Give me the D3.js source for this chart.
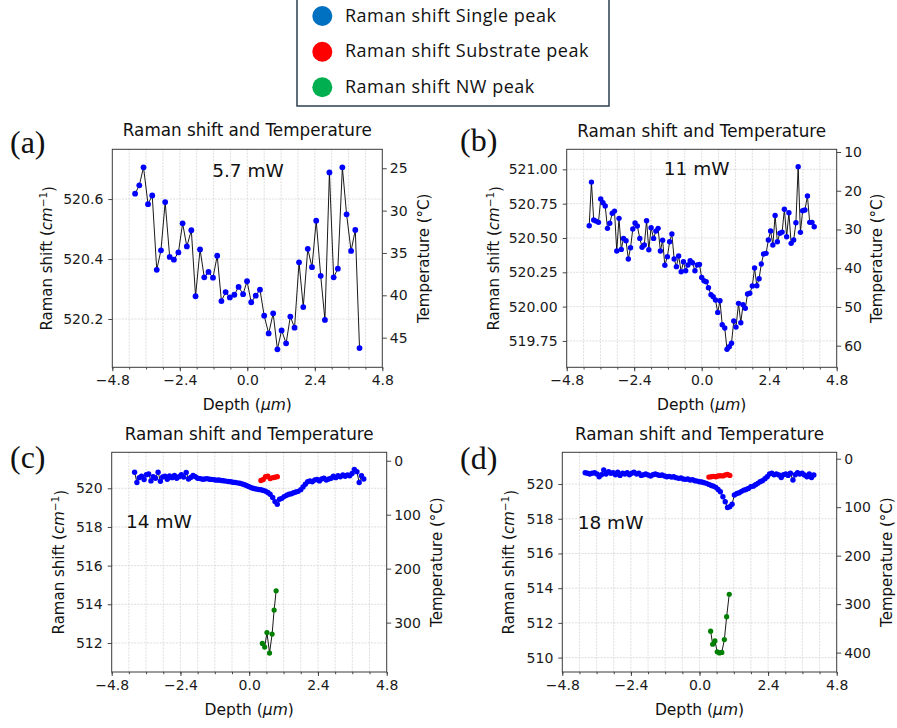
<!DOCTYPE html>
<html>
<head>
<meta charset="utf-8">
<script src="https://cdn.jsdelivr.net/npm/d3@7"></script>
<style>
  body { margin: 0; background: #fff; }
  svg { display: block; }
</style>
</head>
<body>
<svg id="fig" width="897" height="728"></svg>
<script>
// ---------------- data ----------------
// Panel (a), 5.7 mW: depth (µm) and single-peak Raman shift (cm^-1)
const depthA = [-3.99,-3.84,-3.69,-3.53,-3.38,-3.22,-3.07,-2.92,-2.76,-2.61,
  -2.45,-2.30,-2.15,-1.99,-1.84,-1.68,-1.53,-1.38,-1.22,-1.07,
  -0.92,-0.77,-0.62,-0.46,-0.31,-0.15,-0.01,0.14,0.30,0.45,
  0.60,0.76,0.92,1.07,1.22,1.38,1.53,1.68,1.84,1.99,
  2.15,2.30,2.45,2.61,2.76,2.92,3.07,3.22,3.38,3.53,
  3.69,3.84,3.99];
const ramanA = [520.618,520.646,520.706,520.583,520.612,520.364,520.429,520.590,520.407,520.398,
  520.422,520.519,520.442,520.496,520.276,520.432,520.339,520.357,520.338,520.411,
  520.260,520.290,520.272,520.281,520.307,520.283,520.326,520.256,520.278,520.298,
  520.211,520.152,520.219,520.099,520.162,520.119,520.208,520.171,520.389,520.240,
  520.434,520.373,520.528,520.344,520.197,520.689,520.339,520.368,520.706,520.549,
  520.427,520.497,520.103];

// Scan positions shared by panels (b)-(d)
const scanDepth = [-4.00,-3.92,-3.84,-3.76,-3.67,-3.59,-3.51,-3.43,-3.35,-3.27,
  -3.18,-3.10,-3.02,-2.94,-2.86,-2.78,-2.69,-2.61,-2.53,-2.45,
  -2.37,-2.29,-2.20,-2.12,-2.04,-1.96,-1.88,-1.80,-1.71,-1.63,
  -1.55,-1.47,-1.39,-1.31,-1.22,-1.14,-1.06,-0.98,-0.90,-0.82,
  -0.73,-0.65,-0.57,-0.49,-0.41,-0.33,-0.24,-0.16,-0.08,0.00,
  0.08,0.16,0.24,0.33,0.41,0.49,0.57,0.65,0.73,0.82,
  0.90,0.98,1.06,1.14,1.22,1.31,1.39,1.47,1.55,1.63,
  1.71,1.80,1.88,1.96,2.04,2.12,2.20,2.29,2.37,2.45,
  2.53,2.61,2.69,2.78,2.86,2.94,3.02,3.10,3.18,3.27,
  3.35,3.43,3.51,3.59,3.67,3.76,3.84,3.92,4.00];

// Panel (b), 11 mW
const ramanB = [520.589,520.907,520.631,520.623,520.614,520.784,520.757,520.733,520.570,520.607,
  520.680,520.696,520.405,520.643,520.417,520.497,520.480,520.347,520.429,520.565,
  520.609,520.587,520.497,520.432,520.449,520.626,520.414,520.575,520.497,520.550,
  520.570,520.405,520.483,520.301,520.364,520.473,520.529,520.347,520.291,520.369,
  520.254,520.327,520.261,520.303,520.334,520.320,520.261,520.303,520.307,520.212,
  520.189,520.181,520.138,520.087,520.072,520.048,519.958,520.043,519.868,519.844,
  519.689,519.708,519.733,519.895,519.851,520.024,519.883,520.014,519.988,520.092,
  520.097,520.150,520.281,520.152,520.203,520.310,520.383,520.388,520.485,520.551,
  520.449,520.664,520.473,520.534,520.543,520.709,520.509,520.684,520.461,520.485,
  520.611,521.019,520.541,520.699,520.704,520.806,520.614,520.614,520.582];

// Panel (c), 14 mW
const ramanC = [520.83,520.30,520.55,520.62,520.45,520.70,520.74,520.38,520.60,520.52,
  520.83,520.36,520.58,520.62,520.47,520.64,520.55,520.66,520.52,520.60,
  520.70,520.58,520.82,520.48,520.56,520.66,520.60,520.52,520.50,520.47,
  520.48,520.50,520.47,520.46,520.44,520.42,520.43,520.40,520.39,520.37,
  520.35,520.34,520.31,520.30,520.28,520.26,520.22,520.18,520.13,520.08,
  520.03,519.99,519.96,519.94,519.92,519.89,519.85,519.78,519.69,519.52,
  519.31,519.17,519.43,519.48,519.57,519.64,519.69,519.72,519.77,519.81,
  519.84,519.93,520.07,520.21,520.34,520.38,520.34,520.43,520.46,520.38,
  520.48,520.52,520.43,520.48,520.52,520.62,520.55,520.65,520.59,520.69,
  520.62,520.69,520.65,520.76,520.97,520.86,520.30,520.65,520.48];
const substrateDepthC = [0.41,0.49,0.57,0.65,0.73,0.82,0.90,0.98];
const substrateC = [520.40,520.45,520.60,520.63,520.50,520.55,520.57,520.60];
const nwDepthC = [0.46,0.54,0.62,0.71,0.80,0.87,0.94];
const nwC = [511.98,511.79,512.54,511.48,512.46,513.70,514.70];

// Panel (d), 18 mW
const ramanD = [520.65,520.62,520.58,520.62,520.65,520.58,520.42,520.54,520.81,520.58,
  520.71,520.62,520.65,520.54,520.69,520.50,520.62,520.58,520.65,520.54,
  520.62,520.69,520.58,520.62,520.50,520.54,520.58,520.52,520.46,520.54,
  520.58,520.54,520.50,520.52,520.46,520.42,520.44,520.40,520.42,520.37,
  520.33,520.35,520.29,520.27,520.29,520.23,520.25,520.19,520.17,520.13,
  520.12,520.08,520.04,519.98,519.92,519.88,519.81,519.69,519.56,519.27,
  518.98,518.65,518.69,518.84,519.37,519.46,519.50,519.58,519.65,519.69,
  519.75,519.85,519.88,519.96,520.04,520.13,520.19,520.31,520.42,520.58,
  520.62,520.54,520.58,520.52,520.38,520.54,520.58,520.50,520.62,520.23,
  520.54,520.65,520.58,520.62,520.52,520.42,520.58,520.38,520.52];
const substrateDepthD = [0.33,0.41,0.49,0.57,0.65,0.73,0.82,0.90,0.98,1.06];
const substrateD = [520.40,520.42,520.44,520.42,520.46,520.48,520.47,520.52,520.55,520.50];
const nwDepthD = [0.39,0.46,0.54,0.62,0.70,0.78,0.87,0.95,1.04];
const nwD = [511.52,510.77,510.96,510.33,510.27,510.30,511.04,512.36,513.65];

// Axis ticks
const depthTicks = [-4.8,-2.4,0,2.4,4.8];
const depthMinorTicks = [-4.8,-4.2,-3.6,-3.0,-2.4,-1.8,-1.2,-0.6,0,0.6,1.2,1.8,2.4,3.0,3.6,4.2,4.8];
const ramanTicksA = [520.2,520.4,520.6];
const ramanTicksB = [519.75,520.00,520.25,520.50,520.75,521.00];
const ramanTicksC = [512,514,516,518,520];
const ramanTicksD = [510,512,514,516,518,520];
const tempTicksA = [25,30,35,40,45];
const tempTicksB = [10,20,30,40,50,60];
const tempTicksC = [0,100,200,300];
const tempTicksD = [0,100,200,300,400];

// Labels
const panelTags = ["(a)","(b)","(c)","(d)"];
const powerLabels = ["5.7 mW","11 mW","14 mW","18 mW"];
const legendLabels = ["Raman shift Single peak","Raman shift Substrate peak","Raman shift NW peak"];
const legendColors = ["#0070C0","#FF0000","#00B050"];
const seriesColors = { single: "#0000FF", substrate: "#FF0000", nw: "#008000" };

// ---------------- drawing ----------------
const svg = d3.select("#fig");
svg.append("rect").attr("width",897).attr("height",728).attr("fill","#fff");

const SANS = "'DejaVu Sans', sans-serif";

function drawPanel(p) {
  const g = svg.append("g");
  const x = d3.scaleLinear().domain([-4.8, 4.8]).range([p.x0, p.x1]);
  const y = d3.scaleLinear().domain(p.ramanDomain).range([p.y1, p.y0]);
  const yT = d3.scaleLinear().domain(p.tempDomain).range([p.y0, p.y1]);

  // grid
  const grid = g.append("g").attr("stroke", "#d6d6d6").attr("stroke-width", 0.8)
    .attr("stroke-dasharray", "2,1.2");
  grid.selectAll("line.v").data(depthMinorTicks.slice(1, -1)).join("line")
    .attr("x1", d => x(d)).attr("x2", d => x(d)).attr("y1", p.y0).attr("y2", p.y1);
  grid.selectAll("line.h").data(p.ramanTicks).join("line")
    .attr("y1", d => y(d)).attr("y2", d => y(d)).attr("x1", p.x0).attr("x2", p.x1);

  // axes
  const styleAxis = sel => {
    sel.select(".domain").remove();
    sel.selectAll(".tick line").attr("stroke", "#333").attr("stroke-width", 0.9);
    sel.selectAll(".tick text").attr("fill", "#1a1a1a")
      .style("font-family", SANS).style("font-size", "14px");
  };
  g.append("g").attr("transform", `translate(0,${p.y1})`)
    .call(d3.axisBottom(x).tickValues(depthMinorTicks).tickFormat("").tickSize(2.2))
    .call(styleAxis);
  g.append("g").attr("transform", `translate(0,${p.y1})`)
    .call(d3.axisBottom(x).tickValues(depthTicks).tickFormat(d3.format(".1f")).tickSize(4).tickPadding(4))
    .call(styleAxis);
  g.append("g").attr("transform", `translate(${p.x0},0)`)
    .call(d3.axisLeft(y).tickValues(p.ramanTicks).tickFormat(d3.format(p.fmt)).tickSize(4).tickPadding(5))
    .call(styleAxis);
  g.append("g").attr("transform", `translate(${p.x1},0)`)
    .call(d3.axisRight(yT).tickValues(p.tempTicks).tickFormat(d3.format("d")).tickSize(4.5).tickPadding(3))
    .call(styleAxis);

  // frame
  g.append("rect").attr("x", p.x0).attr("y", p.y0)
    .attr("width", p.x1 - p.x0).attr("height", p.y1 - p.y0)
    .attr("fill", "none").attr("stroke", "#3a3a3a").attr("stroke-width", 1);

  // series
  const line = d3.line().x(d => x(d[0])).y(d => y(d[1]));
  p.series.forEach(s => {
    const pts = d3.zip(s.depth, s.values);
    g.append("path").datum(pts).attr("d", line)
      .attr("fill", "none").attr("stroke", "#000").attr("stroke-width", 0.9);
    g.append("g").selectAll("circle").data(pts).join("circle")
      .attr("cx", d => x(d[0])).attr("cy", d => y(d[1])).attr("r", s.r)
      .attr("fill", s.color);
  });

  // title
  g.append("text").attr("x", (p.x0 + p.x1) / 2).attr("y", p.titleY)
    .attr("text-anchor", "middle").style("font-family", SANS).style("font-size", "16.8px")
    .attr("fill", "#111").text("Raman shift and Temperature");

  // x label
  const xl = g.append("text").attr("x", (p.x0 + p.x1) / 2).attr("y", p.y1 + 43)
    .attr("text-anchor", "middle").style("font-family", SANS).style("font-size", "15.5px")
    .attr("fill", "#111");
  xl.append("tspan").text("Depth (");
  xl.append("tspan").style("font-style", "italic").text("\u03bcm");
  xl.append("tspan").text(")");

  // left y label
  const yc = (p.y0 + p.y1) / 2;
  const ll = g.append("text")
    .attr("transform", `translate(${p.x0 - p.offL},${yc}) rotate(-90)`)
    .attr("text-anchor", "middle").attr("dy", "0.35em")
    .style("font-family", SANS).style("font-size", "15px").attr("fill", "#111");
  ll.append("tspan").text("Raman shift (");
  ll.append("tspan").style("font-style", "italic").text("cm");
  ll.append("tspan").attr("dy", "-0.45em").style("font-size", "10.5px").text("\u22121");
  ll.append("tspan").attr("dy", "0.45em").text(")");

  // right y label
  g.append("text")
    .attr("transform", `translate(${p.x1 + p.offR},${yc}) rotate(-90)`)
    .attr("text-anchor", "middle").attr("dy", "0.35em")
    .style("font-family", SANS).style("font-size", "15px").attr("fill", "#111")
    .text("Temperature (\u00b0C)");

  // power annotation
  g.append("text").attr("x", p.annX).attr("y", p.annY).attr("text-anchor", p.annAnchor)
    .style("font-family", SANS).style("font-size", "18.5px").attr("fill", "#111")
    .text(p.power);

  // panel tag
  svg.append("text").attr("x", p.tagX).attr("y", p.tagY)
    .style("font-family", "'Liberation Serif', 'Times New Roman', serif").style("font-size", "32px")
    .attr("fill", "#111").text(p.tag);
}

const panels = [
  { x0: 112.3, x1: 382.3, y0: 149.3, y1: 367.3,
    ramanDomain: [520.039, 520.766], tempDomain: [22.76, 48.5],
    ramanTicks: ramanTicksA, tempTicks: tempTicksA, fmt: ".1f",
    offL: 65.6, offR: 41, titleY: 136,
    annX: 248, annY: 176.7, annAnchor: "middle", power: powerLabels[0],
    tagX: 10, tagY: 152.5, tag: panelTags[0],
    series: [{ depth: depthA, values: ramanA, color: seriesColors.single, r: 2.9 }] },
  { x0: 566.7, x1: 836.7, y0: 149.3, y1: 367.3,
    ramanDomain: [519.558, 521.146], tempDomain: [9.3, 65.58],
    ramanTicks: ramanTicksB, tempTicks: tempTicksB, fmt: ".2f",
    offL: 73.4, offR: 40, titleY: 136.5,
    annX: 696.7, annY: 175, annAnchor: "middle", power: powerLabels[1],
    tagX: 460, tagY: 151, tag: panelTags[1],
    series: [{ depth: scanDepth, values: ramanB, color: seriesColors.single, r: 2.7 }] },
  { x0: 111.7, x1: 386.7, y0: 452.3, y1: 672,
    ramanDomain: [510.5, 521.86], tempDomain: [-15.6, 391.5],
    ramanTicks: ramanTicksC, tempTicks: tempTicksC, fmt: "d",
    offL: 53.4, offR: 50, titleY: 440,
    annX: 126, annY: 528.3, annAnchor: "start", power: powerLabels[2],
    tagX: 10, tagY: 468, tag: panelTags[2],
    series: [
      { depth: scanDepth, values: ramanC, color: seriesColors.single, r: 2.7 },
      { depth: substrateDepthC, values: substrateC, color: seriesColors.substrate, r: 2.7 },
      { depth: nwDepthC, values: nwC, color: seriesColors.nw, r: 2.6 }] },
  { x0: 562.3, x1: 836.7, y0: 452.3, y1: 672,
    ramanDomain: [509.17, 521.83], tempDomain: [-13.2, 440],
    ramanTicks: ramanTicksD, tempTicks: tempTicksD, fmt: "d",
    offL: 54, offR: 50, titleY: 440,
    annX: 577.7, annY: 529, annAnchor: "start", power: powerLabels[3],
    tagX: 460, tagY: 469, tag: panelTags[3],
    series: [
      { depth: scanDepth, values: ramanD, color: seriesColors.single, r: 2.7 },
      { depth: substrateDepthD, values: substrateD, color: seriesColors.substrate, r: 2.7 },
      { depth: nwDepthD, values: nwD, color: seriesColors.nw, r: 2.6 }] }
];
panels.forEach(drawPanel);

// ---------------- legend ----------------
const leg = svg.append("g");
leg.append("rect").attr("x", 297).attr("y", -2).attr("width", 312).attr("height", 108)
  .attr("fill", "#fff").attr("stroke", "#2c3e50").attr("stroke-width", 1.5);
const rowY = [16, 51.7, 87.3];
leg.selectAll("circle").data(legendLabels).join("circle")
  .attr("cx", 322.3).attr("cy", (d, i) => rowY[i]).attr("r", 10)
  .attr("fill", (d, i) => legendColors[i]);
leg.selectAll("text").data(legendLabels).join("text")
  .attr("x", 345).attr("y", (d, i) => rowY[i] + 5.5)
  .style("font-family", "'Open Sans', sans-serif").style("font-size", "18px")
  .style("letter-spacing", "0.5px")
  .attr("fill", "#111").text(d => d);
</script>
</body>
</html>
